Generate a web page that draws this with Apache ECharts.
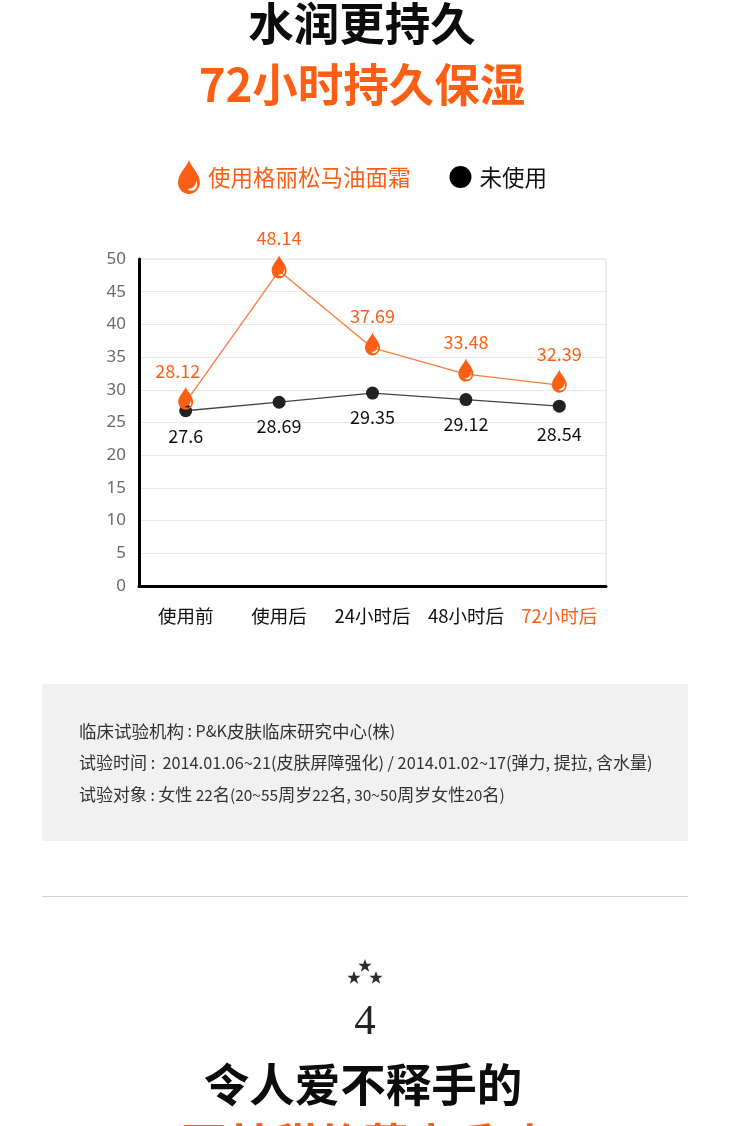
<!DOCTYPE html>
<html>
<head>
<meta charset="utf-8">
<title>水润更持久</title>
<script src="https://cdn.jsdelivr.net/npm/echarts@6/dist/echarts.min.js"></script>
<style>
html, body { margin: 0; padding: 0; background: #fff; }
#main { width: 730px; height: 1126px; }
</style>
</head>
<body>
<div id="main"></div>
<script>
var categories = ['使用前', '使用后', '24小时后', '48小时后', '72小时后'];
var yTicks = [0, 5, 10, 15, 20, 25, 30, 35, 40, 45, 50];
// 图上点的高度和标注的数字并不一致,分开存
var usedValues = [28.1, 48.2, 36.4, 32.4, 30.7];
var usedLabels = ['28.12', '48.14', '37.69', '33.48', '32.39'];
var unusedValues = [26.8, 28.1, 29.5, 28.5, 27.5];
var unusedLabels = ['27.6', '28.69', '29.35', '29.12', '28.54'];
var infoLines = [
    '临床试验机构 : P&K皮肤临床研究中心(株)',
    '试验时间 :  2014.01.06~21(皮肤屏障强化) / 2014.01.02~17(弹力, 提拉, 含水量)',
    '试验对象 : 女性 22名(20~55周岁22名, 30~50周岁女性20名)'
];

var ORANGE = '#fc5f14';
var FONT = '"Noto Sans CJK SC", sans-serif';
var DROP = 'path://M50 0C58 30 100 62 100 102C100 132 78 155 50 155C22 155 0 132 0 102C0 62 42 30 50 0Z' +
    'M84 92C82 116 68 130 44 132C56 150 100 138 84 92Z';
// 标注的微调,和原图对齐
var usedLabelShift = [[-8, 1], [0, 0], [0, 1], [0, 1], [0, 1]];
var unusedLabelShift = [[0, 0], [0, -2], [0, -1], [0, -1], [0, 3]];
// 每行说明文字的字号 [西文, 汉字]
var infoSizes = [[16, 17.5], [16.3, 17], [15.5, 17]];

function text(x, y, str, size, color, weight, family) {
    return {
        type: 'text',
        x: x,
        y: y,
        style: {
            text: str,
            fill: color,
            fontSize: size,
            fontWeight: weight || 'normal',
            fontFamily: family || FONT,
            align: 'center',
            verticalAlign: 'middle'
        }
    };
}

// 说明文字:汉字大,西文窄一点
function infoText(y, line, sizes) {
    var parts = line.match(/[\x20-\x7e]+|[^\x20-\x7e]+/g);
    var t = text(79, y, parts.map(function(s) {
        return (/^[\x20-\x7e]/.test(s) ? '{a|' : '{c|') + s + '}';
    }).join(''), 17, '#333');
    t.style.align = 'left';
    t.style.rich = {
        a: { fontSize: sizes[0], fontFamily: FONT, fill: '#333' },
        c: { fontSize: sizes[1], fontFamily: FONT, fill: '#333' }
    };
    return t;
}

function starPoints(cx, cy, r1, r2) {
    var pts = [];
    for (var i = 0; i < 10; i++) {
        var r = i % 2 ? r2 : r1;
        var a = -Math.PI / 2 + i * Math.PI / 5;
        pts.push([cx + r * Math.cos(a), cy + r * Math.sin(a)]);
    }
    return pts;
}

function star(x, y) {
    return { type: 'polygon', shape: { points: starPoints(x, y, 7, 2.8) }, style: { fill: '#2b2b2b' } };
}

var graphics = [
    text(362, 24, '水润更持久', 45.5, '#0c0c0c', 'bold'),
    text(362, 85, '72小时持久保湿', 45.5, ORANGE, 'bold'),
    { type: 'rect', shape: { x: 42, y: 684, width: 646, height: 157 }, style: { fill: '#f1f1f1' }, z: -1 },
    { type: 'line', shape: { x1: 42, y1: 896.5, x2: 688, y2: 896.5 }, style: { stroke: '#d4d4d4', lineWidth: 1 } },
    star(365, 966), star(354, 978), star(376, 978),
    text(365, 1023, '4', 43, '#222', 'normal', '"Liberation Serif", serif'),
    text(363, 1085, '令人爱不释手的', 45.5, '#0c0c0c', 'bold'),
    // 原图这一行被裁掉,只露出字顶,文字是猜的
    text(363, 1145, '更甘甜的草本香味', 45.5, ORANGE, 'bold')
];
infoLines.forEach(function(line, i) {
    graphics.push(infoText(731 + i * 32, line, infoSizes[i]));
});

function withShift(values, shifts) {
    return values.map(function(v, i) {
        return { value: v, label: { offset: shifts[i] } };
    });
}

var myChart = echarts.init(document.getElementById('main'), null, { renderer: 'canvas' });
myChart.setOption({
    animation: false,
    backgroundColor: '#fff',
    textStyle: { fontFamily: FONT },
    legend: {
        left: 178,
        top: 160,
        padding: 0,
        itemGap: 39,
        itemWidth: 22,
        itemHeight: 34,
        selectedMode: false,
        data: [
            { name: '使用格丽松马油面霜', icon: DROP, textStyle: { color: ORANGE, fontSize: 22.5, fontFamily: FONT, padding: [0, 0, 0, 3] } },
            { name: '未使用', icon: 'circle', itemStyle: { color: '#000' }, textStyle: { color: '#111', fontSize: 22.5, fontFamily: FONT, padding: [0, 0, 0, 3] } }
        ]
    },
    grid: { show: true, left: 139, right: 124, top: 259, bottom: 540, borderColor: '#dedede', borderWidth: 1 },
    xAxis: {
        type: 'category',
        boundaryGap: true,
        data: categories.map(function(name, i) {
            return { value: name, textStyle: { color: i === 4 ? ORANGE : '#111' } };
        }),
        axisTick: { show: false },
        axisLine: { lineStyle: { color: '#000', width: 3 } },
        axisLabel: { fontSize: 18.5, margin: 21, interval: 0, fontFamily: FONT },
        splitLine: { show: false }
    },
    yAxis: {
        type: 'value',
        min: yTicks[0],
        max: yTicks[yTicks.length - 1],
        interval: yTicks[1] - yTicks[0],
        axisTick: { show: false },
        axisLine: { show: true, lineStyle: { color: '#000', width: 3 } },
        axisLabel: { fontSize: 17, color: '#6b6b6b', margin: 13, padding: [2, 0, 0, 0], fontFamily: '"Noto Sans", sans-serif' },
        splitLine: { lineStyle: { color: '#e9e9e9', width: 1 } }
    },
    series: [
        {
            name: '未使用',
            type: 'line',
            data: withShift(unusedValues, unusedLabelShift),
            z: 2,
            symbol: 'circle',
            symbolSize: 13,
            lineStyle: { color: '#444', width: 1.3 },
            itemStyle: { color: '#222' },
            label: {
                show: true,
                position: 'bottom',
                distance: 10,
                fontSize: 18,
                color: '#111',
                fontFamily: FONT,
                formatter: function(p) { return unusedLabels[p.dataIndex]; }
            }
        },
        {
            name: '使用格丽松马油面霜',
            type: 'line',
            data: withShift(usedValues, usedLabelShift),
            z: 3,
            symbol: DROP,
            symbolSize: [15, 23],
            symbolOffset: [0, -4],
            lineStyle: { color: '#fb7a3c', width: 1.3 },
            itemStyle: { color: ORANGE },
            label: {
                show: true,
                position: 'top',
                distance: 8,
                fontSize: 18,
                color: ORANGE,
                fontFamily: FONT,
                formatter: function(p) { return usedLabels[p.dataIndex]; }
            }
        }
    ],
    graphic: graphics
});
</script>
</body>
</html>
